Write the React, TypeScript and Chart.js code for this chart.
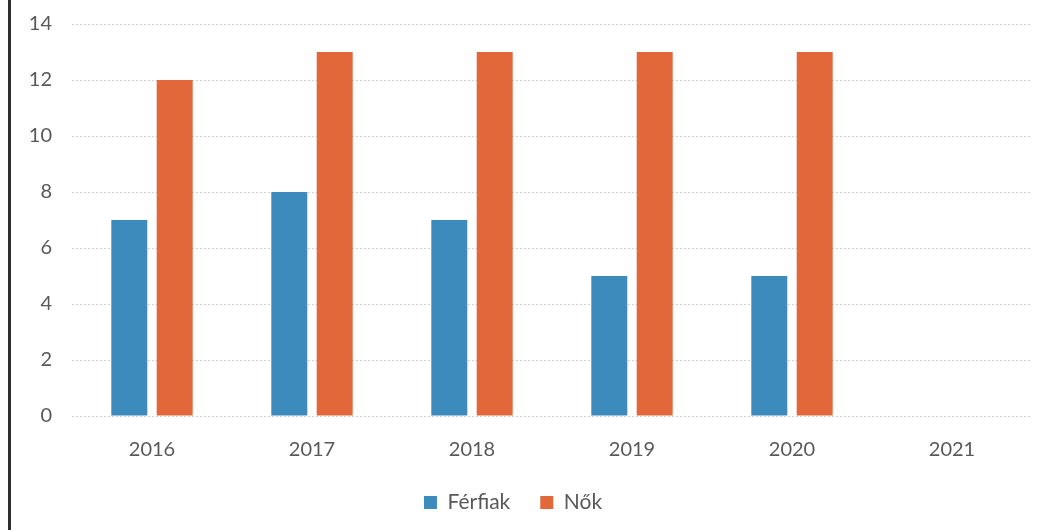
import React, { useEffect, useRef } from "react";
import { Chart, registerables } from "chart.js";

Chart.register(...registerables);

const categories = ["2016", "2017", "2018", "2019", "2020", "2021"];
const ferfiak = [7, 8, 7, 5, 5, null];
const nok = [12, 13, 13, 13, 13, null];
const seriesNames = ["Férfiak", "Nők"];
const yTicks = { min: 0, max: 14, step: 2 };

const FONT = "Lato, 'Open Sans', sans-serif";
const TEXT = "#595959";

const legendShift = {
  id: "legendShift",
  afterLayout(chart: any) {
    const lg = chart.legend;
    if (!lg) return;
    const targetCenter = 502;
    const dx = targetCenter - (lg.left + lg.right) / 2;
    lg.left += dx;
    lg.right += dx;
    const targetTop = 462;
    const dy = targetTop - lg.top;
    lg.top += dy;
    lg.bottom += dy;
  },
};

export default function App() {
  const ref = useRef<HTMLCanvasElement | null>(null);

  useEffect(() => {
    if (!ref.current) return;
    const chart = new Chart(ref.current, {
      type: "bar",
      data: {
        labels: categories,
        datasets: [
          {
            label: seriesNames[0],
            data: ferfiak,
            backgroundColor: "#3d8bbc",
            categoryPercentage: 0.5675,
            barPercentage: 0.793,
          },
          {
            label: seriesNames[1],
            data: nok,
            backgroundColor: "#e2683b",
            categoryPercentage: 0.5675,
            barPercentage: 0.793,
          },
        ],
      },
      plugins: [legendShift],
      options: {
        animation: false,
        responsive: false,
        maintainAspectRatio: false,
        layout: { padding: { left: 18, right: 15, top: 24, bottom: 0 } },
        plugins: {
          tooltip: { enabled: false },
          legend: {
            position: "bottom",
            labels: {
              boxWidth: 13,
              boxHeight: 13,
              padding: 30,
              color: TEXT,
              font: { family: FONT, size: 21 },
            },
          },
        },
        scales: {
          x: {
            grid: { display: false, drawTicks: false },
            border: { display: false },
            ticks: {
              padding: 22,
              color: TEXT,
              font: { family: FONT, size: 20 },
            },
            afterFit: (scale: any) => {
              scale.height = 53;
            },
          },
          y: {
            min: yTicks.min,
            max: yTicks.max,
            grid: {
              color: "#d2d2d2",
              drawTicks: false,
              lineWidth: 1,
            },
            border: { display: false, dash: [2, 2] },
            ticks: {
              stepSize: yTicks.step,
              padding: 20,
              color: TEXT,
              font: { family: FONT, size: 20 },
            },
            afterFit: (scale: any) => {
              scale.width = 43;
              scale.paddingTop = 0;
              scale.paddingBottom = 0;
            },
          },
        },
      },
    });
    return () => chart.destroy();
  }, []);

  return (
    <div
      style={{
        position: "absolute",
        left: 8,
        top: 0,
        width: 1039,
        height: 530,
        borderLeft: "3px solid #2e2e2e",
        boxSizing: "border-box",
        background: "#fff",
        overflow: "hidden",
      }}
    >
      <canvas ref={ref} width={1036} height={530} style={{ display: "block" }} />
    </div>
  );
}
